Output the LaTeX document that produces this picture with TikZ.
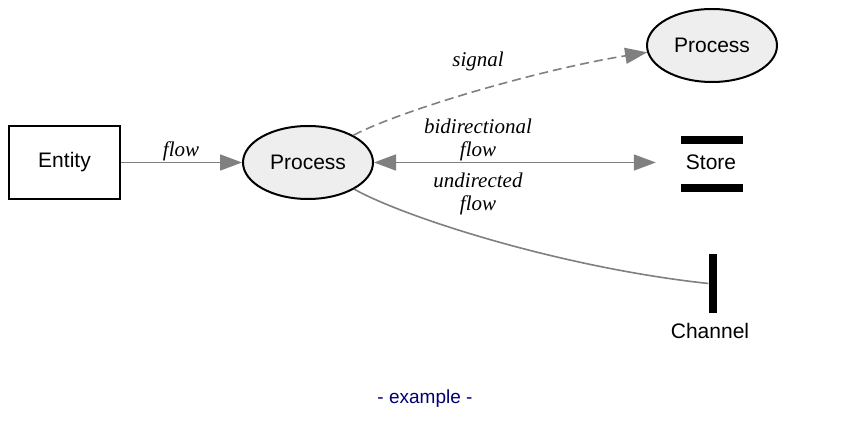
\documentclass[tikz,border=0pt]{standalone}
\usepackage{fontspec}
\setmainfont{Liberation Sans}
\newfontfamily\lserif{Liberation Serif}
\usetikzlibrary{shapes.geometric,arrows.meta}
\definecolor{procfill}{HTML}{EEEEEE}
\definecolor{edgegray}{HTML}{808080}
\definecolor{capnavy}{HTML}{000070}
\tikzset{
  txt/.style={font=\fontsize{21}{23}\selectfont},
  elab/.style={font=\fontsize{21}{23}\lserif\itshape, align=center, inner sep=0},
  entbox/.style={draw=black, line width=2pt, minimum width=111pt, minimum height=73pt, inner sep=0, txt},
  proc/.style={ellipse, draw=black, fill=procfill, line width=2pt, minimum width=130pt, minimum height=73pt, inner sep=0, txt},
  conn/.style={draw=edgegray, line width=1.6pt},
  tip/.style={-{Triangle[length=22pt,width=16pt]}, edgegray},
  bitip/.style={{Triangle[length=22pt,width=16pt]}-{Triangle[length=22pt,width=16pt]}, edgegray},
}
\begin{document}
\begin{tikzpicture}[x=1pt,y=-1pt]
\fill[white] (0,0) rectangle (850,427);
\useasboundingbox (0,0) rectangle (850,427);

\node[entbox] (ent) at (64.5,162.5) {Entity};
\node[proc] (p1) at (308,162.5) {Process};
\node[proc] (p2) at (712,45.5) {Process};
\node[txt, minimum width=110pt, minimum height=56pt, inner sep=0] (st) at (711,162.5) {Store};
\fill ([shift={(-30,-26.5)}]st.center) rectangle ++(62,8);
\fill ([shift={(-30,21.5)}]st.center) rectangle ++(62,8);
\node[fill=black, minimum width=8pt, minimum height=58pt, inner sep=0] (ch) at (712.5,283.5) {};
\node[txt, inner sep=0] (chl) at (710,331) {Channel};

\draw[conn, tip] (ent.east) -- (p1.west);
\draw[conn, bitip] (p1.east) -- (st.west);
\draw[conn, tip, dash pattern=on 9pt off 5pt] (p1.31) .. controls +(50,-26) and +(-106,17) .. (p2.186);
\draw[conn] (p1.-30) .. controls +(50,28) and +(-148,-16) .. (ch.west);

\node[elab] (lflow) at (181,151.5) {flow};
\node[elab] (lsig) at (478,61.5) {signal};
\node[elab] (lbi) at (478,140) {bidirectional\\flow};
\node[elab] (lun) at (478,194) {undirected\\flow};

\node[font=\fontsize{19}{22}\selectfont, text=capnavy, inner sep=0] (cap) at (425,399) {- example -};
\end{tikzpicture}
\end{document}
